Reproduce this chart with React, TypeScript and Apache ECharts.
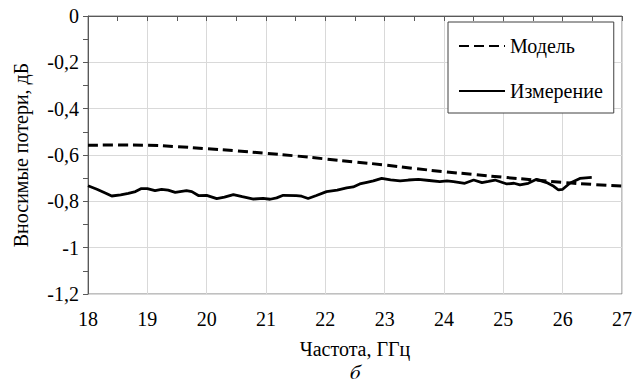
import React, { useEffect, useRef } from "react";
import * as echarts from "echarts";

const seriesNames = ["Модель", "Измерение"];
const xAxisTitle = "Частота, ГГц";
const yAxisTitle = "Вносимые потери, дБ";
const subCaption = "б";

const modelFreq = [18, 18.5, 19, 19.5, 20, 20.5, 21, 21.5, 22, 22.5, 23, 23.5, 24, 24.5, 25, 25.5, 26, 26.5, 27];
const modelLoss = [-0.558, -0.557, -0.558, -0.564, -0.573, -0.582, -0.593, -0.604, -0.617, -0.63, -0.643, -0.658, -0.672, -0.684, -0.696, -0.707, -0.718, -0.727, -0.734];

const measFreq = [18.0, 18.15, 18.3, 18.4, 18.55, 18.68, 18.8, 18.9, 19.0, 19.13, 19.24, 19.35, 19.47, 19.66, 19.75, 19.86, 20.0, 20.17, 20.3, 20.45, 20.6, 20.79, 20.95, 21.07, 21.18, 21.29, 21.51, 21.6, 21.71, 21.85, 22.02, 22.2, 22.36, 22.47, 22.58, 22.7, 22.81, 22.95, 23.1, 23.26, 23.4, 23.57, 23.75, 23.93, 24.05, 24.16, 24.35, 24.5, 24.64, 24.75, 24.86, 25.06, 25.18, 25.28, 25.42, 25.56, 25.73, 25.85, 25.93, 26.0, 26.12, 26.29, 26.49];
const measLoss = [-0.733, -0.748, -0.765, -0.777, -0.772, -0.766, -0.758, -0.745, -0.745, -0.754, -0.748, -0.752, -0.761, -0.754, -0.758, -0.775, -0.774, -0.788, -0.782, -0.771, -0.78, -0.79, -0.787, -0.791, -0.785, -0.774, -0.775, -0.778, -0.788, -0.775, -0.758, -0.752, -0.742, -0.738, -0.725, -0.718, -0.712, -0.701, -0.707, -0.712, -0.708, -0.705, -0.71, -0.715, -0.712, -0.715, -0.722, -0.708, -0.719, -0.714, -0.708, -0.725, -0.722, -0.729, -0.722, -0.705, -0.719, -0.735, -0.751, -0.748, -0.722, -0.701, -0.697];

const FONT = "Liberation Serif";

export default function App() {
  const ref = useRef<HTMLDivElement>(null);
  useEffect(() => {
    document.body.style.margin = "0";
    if (!ref.current) return;
    const chart = echarts.init(ref.current, null, { renderer: "svg" });
    const axisLineColor = "#595959";
    const fmt = (v: number) => {
      const r = Math.round(v * 10) / 10;
      if (r === 0) return "0";
      return String(r).replace(".", ",");
    };
    const txt = { fontFamily: FONT, fontSize: 20, color: "#000", fontWeight: "normal" as const };
    chart.setOption({
      animation: false,
      backgroundColor: "#ffffff",
      textStyle: { fontFamily: FONT, fontSize: 20, color: "#000" },
      grid: { left: 88, right: 17, top: 16, bottom: 90, show: true, borderColor: "#808080", borderWidth: 1 },
      legend: {
        data: seriesNames,
        orient: "vertical",
        left: 448,
        top: 22,
        itemWidth: 46,
        itemHeight: 14,
        itemGap: 25,
        padding: [14, 11, 12, 10],
        borderColor: "#404040",
        borderWidth: 1,
        backgroundColor: "#ffffff",
        itemStyle: { opacity: 0 },
        textStyle: { ...txt },
      },
      xAxis: {
        type: "value",
        min: 18,
        max: 27,
        interval: 1,
        name: xAxisTitle,
        nameLocation: "middle",
        nameGap: 45,
        nameTextStyle: { ...txt },
        axisLine: { show: true, lineStyle: { color: axisLineColor, width: 1 } },
        axisTick: { show: true, length: 5, lineStyle: { color: axisLineColor } },
        minorTick: { show: true, splitNumber: 2, length: 5, lineStyle: { color: axisLineColor } },
        splitLine: { show: true, lineStyle: { color: "#d9d9d9" } },
        axisLabel: { ...txt, margin: 15 },
      },
      yAxis: {
        type: "value",
        min: -1.2,
        max: 0,
        interval: 0.2,
        name: yAxisTitle,
        nameLocation: "middle",
        nameGap: 57,
        nameRotate: 90,
        nameTextStyle: { ...txt },
        axisLine: { show: true, lineStyle: { color: axisLineColor, width: 1 } },
        axisTick: { show: true, length: 5, lineStyle: { color: axisLineColor } },
        minorTick: { show: true, splitNumber: 2, length: 5, lineStyle: { color: axisLineColor } },
        splitLine: { show: true, lineStyle: { color: "#d9d9d9" } },
        axisLabel: { ...txt, margin: 9, formatter: fmt },
      },
      graphic: [
        {
          type: "text",
          x: 355,
          y: 372,
          style: {
            text: subCaption,
            fontFamily: "FreeSerif, 'DejaVu Serif', serif",
            fontSize: 21,
            fontStyle: "italic",
            textAlign: "center",
            textVerticalAlign: "middle",
            fill: "#000",
          },
        },
      ],
      series: [
        {
          name: seriesNames[0],
          type: "line",
          smooth: true,
          symbol: "none",
          data: modelFreq.map((f, i) => [f, modelLoss[i]]),
          lineStyle: { color: "#000", width: 3, type: [10, 5] },
          itemStyle: { color: "#000" },
          z: 3,
        },
        {
          name: seriesNames[1],
          type: "line",
          symbol: "none",
          data: measFreq.map((f, i) => [f, measLoss[i]]),
          lineStyle: { color: "#000", width: 2.8, type: "solid" },
          itemStyle: { color: "#000" },
          z: 2,
        },
      ],
    });
    return () => chart.dispose();
  }, []);
  return <div ref={ref} style={{ width: 639, height: 384 }} />;
}
